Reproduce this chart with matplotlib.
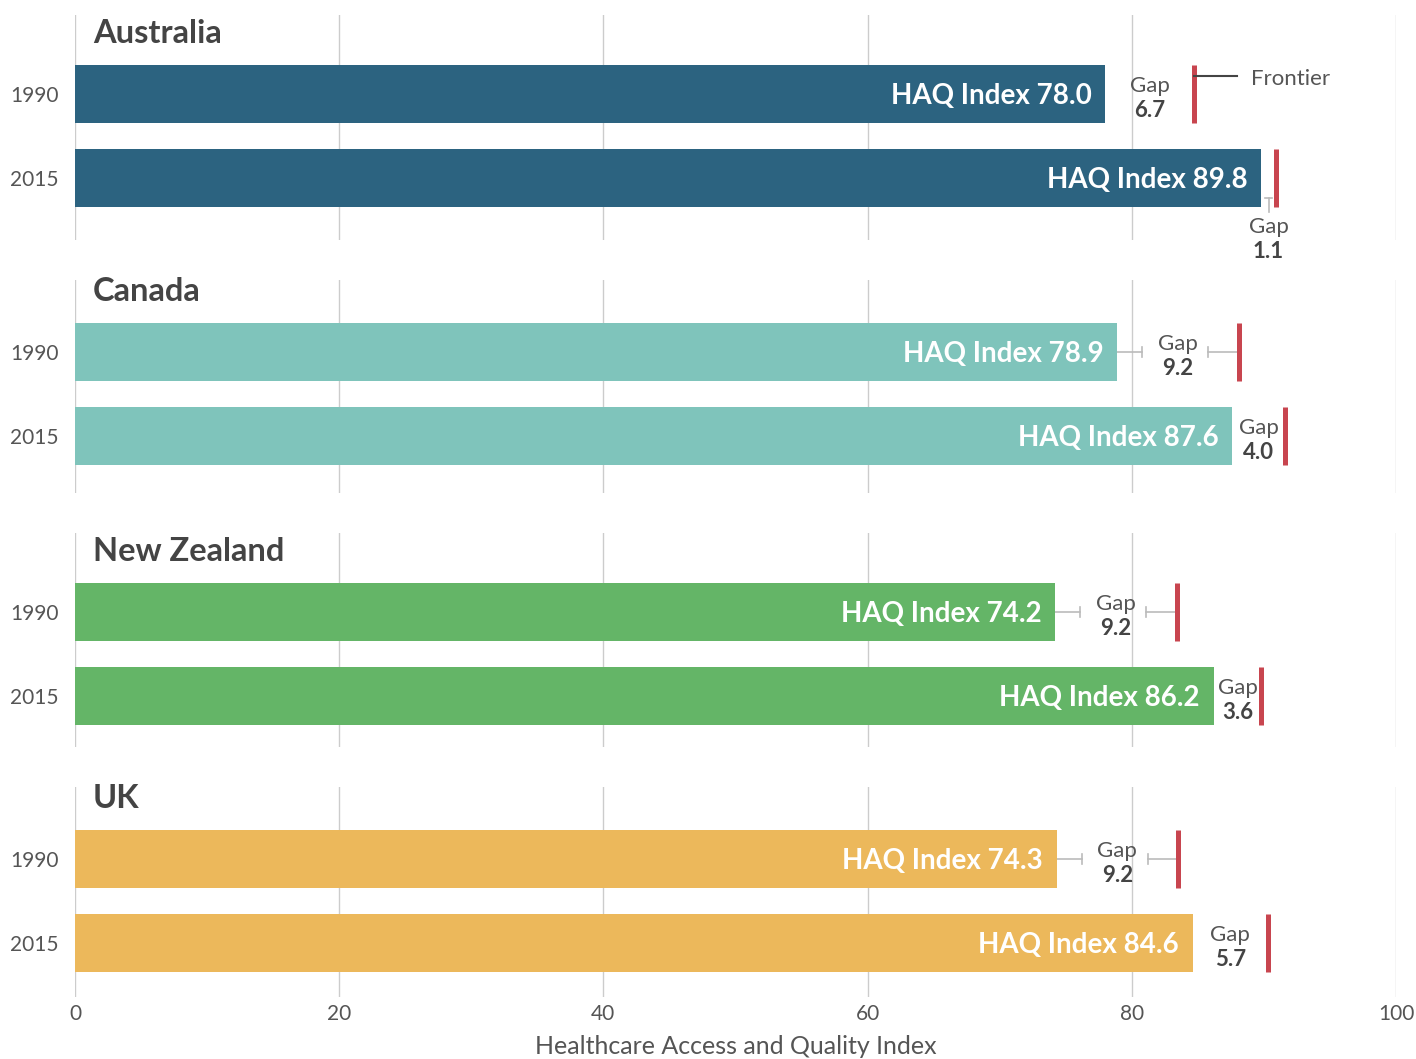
import matplotlib
matplotlib.use('Agg')
import matplotlib.pyplot as plt

plt.rcParams['font.family'] = ['Lato', 'DejaVu Sans']

countries = ['Australia', 'Canada', 'New Zealand', 'UK']
years = ['1990', '2015']
haq_1990 = [78.0, 78.9, 74.2, 74.3]
haq_2015 = [89.8, 87.6, 86.2, 84.6]
gap_1990 = [6.7, 9.2, 9.2, 9.2]
gap_2015 = [1.1, 4.0, 3.6, 5.7]
bar_colors = ['#2c6380', '#7fc4bb', '#64b567', '#ecb85b']

RED = '#c8454f'
GRID = '#cccccc'
W, H = 1416, 1059

# panel layout in pixels: top, bottom, centre of the 1990 bar
panel_px = [(15, 240, 94), (280, 493, 352), (533, 747, 612), (787, 997, 859)]
left_px, right_px = 75, 1396
step = 84.0  # pixels between the two bars of a panel

fig = plt.figure(figsize=(W / 100, H / 100), dpi=100)

for i, country in enumerate(countries):
    top, bot, c = panel_px[i]
    ax = fig.add_axes([left_px / W, 1 - bot / H, (right_px - left_px) / W, (bot - top) / H])
    ylo = -(c - top) / step
    yhi = ylo + (bot - top) / step
    ax.set_ylim(yhi, ylo)
    ax.set_xlim(0, 100)

    vals = [haq_1990[i], haq_2015[i]]
    gaps = [gap_1990[i], gap_2015[i]]
    ax.barh([0, 1], vals, height=58 / step, color=bar_colors[i], zorder=2)

    for j in range(2):
        v, g = vals[j], gaps[j]
        f = v + g
        ax.text(v - 1.05, j + 0.025, f'HAQ Index {v:.1f}', ha='right', va='center',
                color='white', fontsize=20, fontweight='bold', zorder=3)
        ax.plot([f, f], [j - 0.345, j + 0.345], color=RED, lw=3.6,
                solid_capstyle='butt', zorder=3)
        mid = (v + f) / 2
        if g < 2:
            # gap too narrow: put the label under the bar
            ax.plot([mid, mid], [j + 0.24, j + 0.41], color='#bbbbbb', lw=1.2, zorder=3)
            ax.plot([mid - 0.3, mid + 0.3], [j + 0.24, j + 0.24], color='#bbbbbb', lw=1.2, zorder=3)
            ax.text(mid, j + 0.58, 'Gap', ha='center', va='center', color='#555555', fontsize=16)
            ax.text(mid, j + 0.88, f'{g:.1f}', ha='center', va='center', color='#444444',
                    fontsize=16, fontweight='bold')
        else:
            ax.text(mid, j - 0.095, 'Gap', ha='center', va='center', color='#555555', fontsize=16)
            ax.text(mid, j + 0.2, f'{g:.1f}', ha='center', va='center', color='#444444',
                    fontsize=16, fontweight='bold')
            if g > 8:
                for a, b, cap in [(v, mid - 2.7, mid - 2.7), (mid + 2.3, f, mid + 2.3)]:
                    ax.plot([a, b], [j, j], color='#bbbbbb', lw=1.2, zorder=1.5)
                    ax.plot([cap, cap], [j - 0.06, j + 0.06], color='#bbbbbb', lw=1.2)

    if i == 0:
        f = haq_1990[0] + gap_1990[0]
        ax.plot([f, 88.0], [-0.21, -0.21], color='#444444', lw=1.5, zorder=3)
        ax.text(89.0, -0.18, 'Frontier', ha='left', va='center', color='#555555', fontsize=16)

    ax.text(1.36, -0.72, country, ha='left', va='center', color='#444444',
            fontsize=23.5, fontweight='bold')

    ax.set_yticks([0, 1])
    ax.set_yticklabels(years, fontsize=15, color='#555555')
    ax.set_xticks(range(0, 101, 20))
    ax.tick_params(axis='both', length=0)
    ax.tick_params(axis='y', pad=12)
    ax.grid(axis='x', color=GRID, lw=1.0)
    ax.set_axisbelow(True)
    for s in ax.spines.values():
        s.set_visible(False)

    if i == len(countries) - 1:
        ax.tick_params(axis='x', pad=5, labelsize=15, labelcolor='#555555')
        ax.set_xlabel('Healthcare Access and Quality Index', fontsize=18,
                      color='#555555', labelpad=8)
    else:
        ax.tick_params(axis='x', labelbottom=False)

fig.savefig('out.png', dpi=100)
